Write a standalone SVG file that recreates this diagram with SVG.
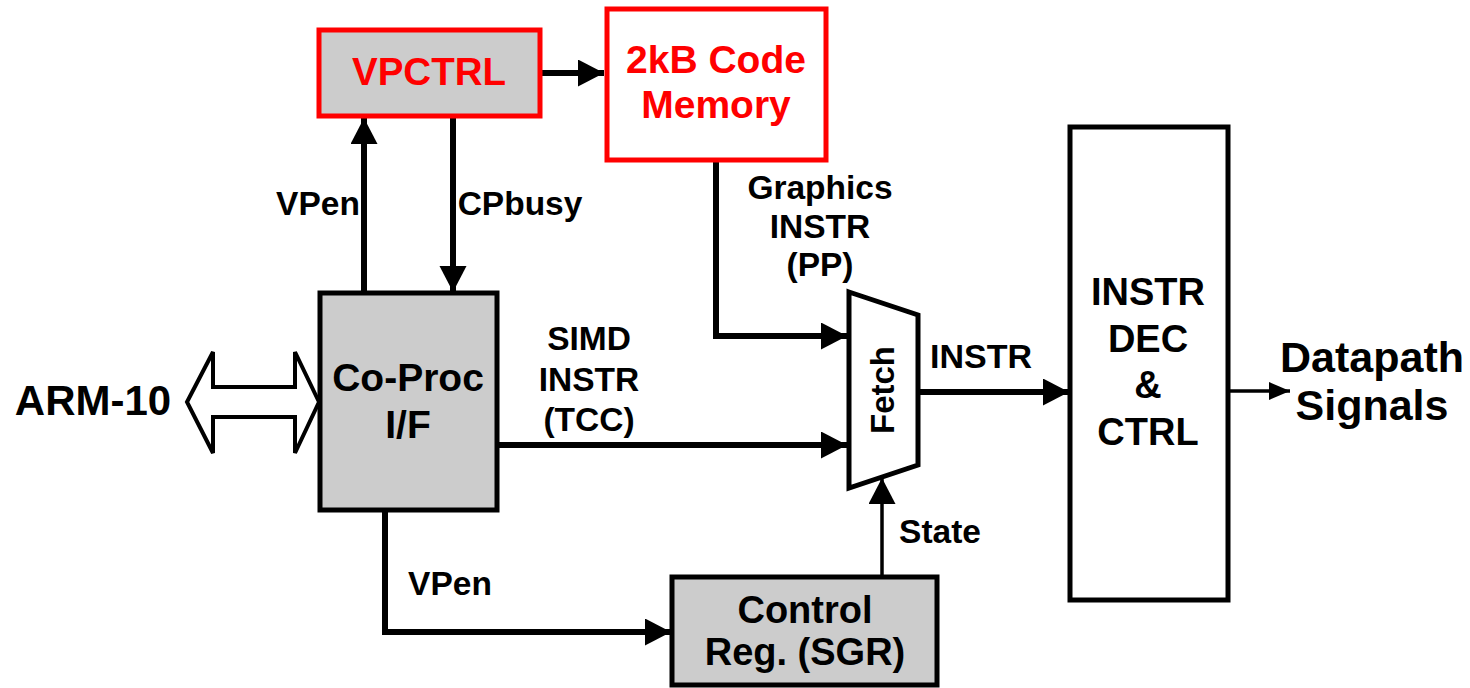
<svg xmlns="http://www.w3.org/2000/svg" width="1470" height="688" viewBox="0 0 1470 688">
<style>
text{font-family:"Liberation Sans",Arial,sans-serif;font-weight:bold;fill:#000;text-anchor:middle}
.red{fill:#ff0000}
.box{stroke:#000;stroke-width:5;fill:#fff}
.gray{fill:#cccccc}
.rbox{stroke:#ff0000;stroke-width:5}
.wire{fill:none;stroke:#000;stroke-width:6}
.thin{fill:none;stroke:#000;stroke-width:3.5}
.lbl{font-size:33.5px}
</style>
<defs>
<marker id="ah" markerUnits="userSpaceOnUse" markerWidth="28" markerHeight="28" refX="26" refY="13.5" orient="auto"><path d="M0,0 L26,13.5 L0,27 Z" fill="#000"/></marker>
<marker id="ahs" markerUnits="userSpaceOnUse" markerWidth="24" markerHeight="20" refX="21" refY="9" orient="auto"><path d="M0,0 L21,9 L0,18 Z" fill="#000"/></marker>
</defs>
<g id="connectors">
<line class="wire" x1="364" y1="293" x2="364" y2="118" marker-end="url(#ah)"/>
<line class="wire" x1="453" y1="117" x2="453" y2="292" marker-end="url(#ah)"/>
<line class="wire" x1="541" y1="73" x2="604" y2="73" marker-end="url(#ah)"/>
<polyline class="wire" points="716,162 716,336 847,336" marker-end="url(#ah)"/>
<line class="wire" x1="497" y1="445" x2="847" y2="445" marker-end="url(#ah)"/>
<line class="wire" x1="918" y1="392" x2="1069" y2="392" marker-end="url(#ah)"/>
<polyline class="wire" points="385,510 385,632 671,632" marker-end="url(#ah)"/>
<line class="thin" x1="882" y1="577" x2="882" y2="478" marker-end="url(#ah)"/>
<line class="thin" x1="1228" y1="391" x2="1290" y2="391" marker-end="url(#ahs)"/>
</g>
<g id="arm10">
<polygon points="187,402 213,352 213,387 295,387 295,352 319,402 295,453 295,417 213,417 213,453" fill="#fff" stroke="#000" stroke-width="4"/>
<text x="93" y="415" font-size="42">ARM-10</text>
</g>
<g id="vpctrl">
<rect class="rbox gray" x="319" y="30" width="221" height="86"/>
<text class="red" x="429" y="85" font-size="38.5">VPCTRL</text>
</g>
<g id="codemem">
<rect class="rbox" x="607" y="9" width="219" height="151" fill="#fff"/>
<text class="red" x="716" y="73" font-size="39">2kB Code</text>
<text class="red" x="716" y="118" font-size="39">Memory</text>
</g>
<g id="coproc">
<rect class="box gray" x="320" y="293" width="177" height="217"/>
<text x="408" y="391" font-size="39">Co-Proc</text>
<text x="408" y="438" font-size="39">I/F</text>
</g>
<g id="fetch">
<polygon points="849,292 918,315 918,465 849,488" fill="#fff" stroke="#000" stroke-width="5"/>
<text x="0" y="0" font-size="33" transform="translate(894,390) rotate(-90)">Fetch</text>
</g>
<g id="decoder">
<rect class="box" x="1070" y="127" width="158" height="473"/>
<text x="1148" y="305" font-size="38">INSTR</text>
<text x="1148" y="352" font-size="38">DEC</text>
<text x="1148" y="398" font-size="38">&amp;</text>
<text x="1148" y="445" font-size="38">CTRL</text>
</g>
<g id="controlreg">
<rect class="box gray" x="672" y="577" width="265" height="108"/>
<text x="805" y="623" font-size="38">Control</text>
<text x="805" y="665" font-size="38">Reg. (SGR)</text>
</g>
<g id="labels">
<text class="lbl" x="318" y="215">VPen</text>
<text class="lbl" x="520" y="215">CPbusy</text>
<text class="lbl" x="820" y="199">Graphics</text>
<text class="lbl" x="820" y="238">INSTR</text>
<text class="lbl" x="820" y="276">(PP)</text>
<text class="lbl" x="589" y="350">SIMD</text>
<text class="lbl" x="589" y="391">INSTR</text>
<text class="lbl" x="589" y="431">(TCC)</text>
<text x="981" y="368" font-size="34">INSTR</text>
<text class="lbl" x="450" y="595">VPen</text>
<text class="lbl" x="940" y="543">State</text>
<text x="1372" y="372" font-size="43">Datapath</text>
<text x="1372" y="420" font-size="43">Signals</text>
</g>
</svg>
